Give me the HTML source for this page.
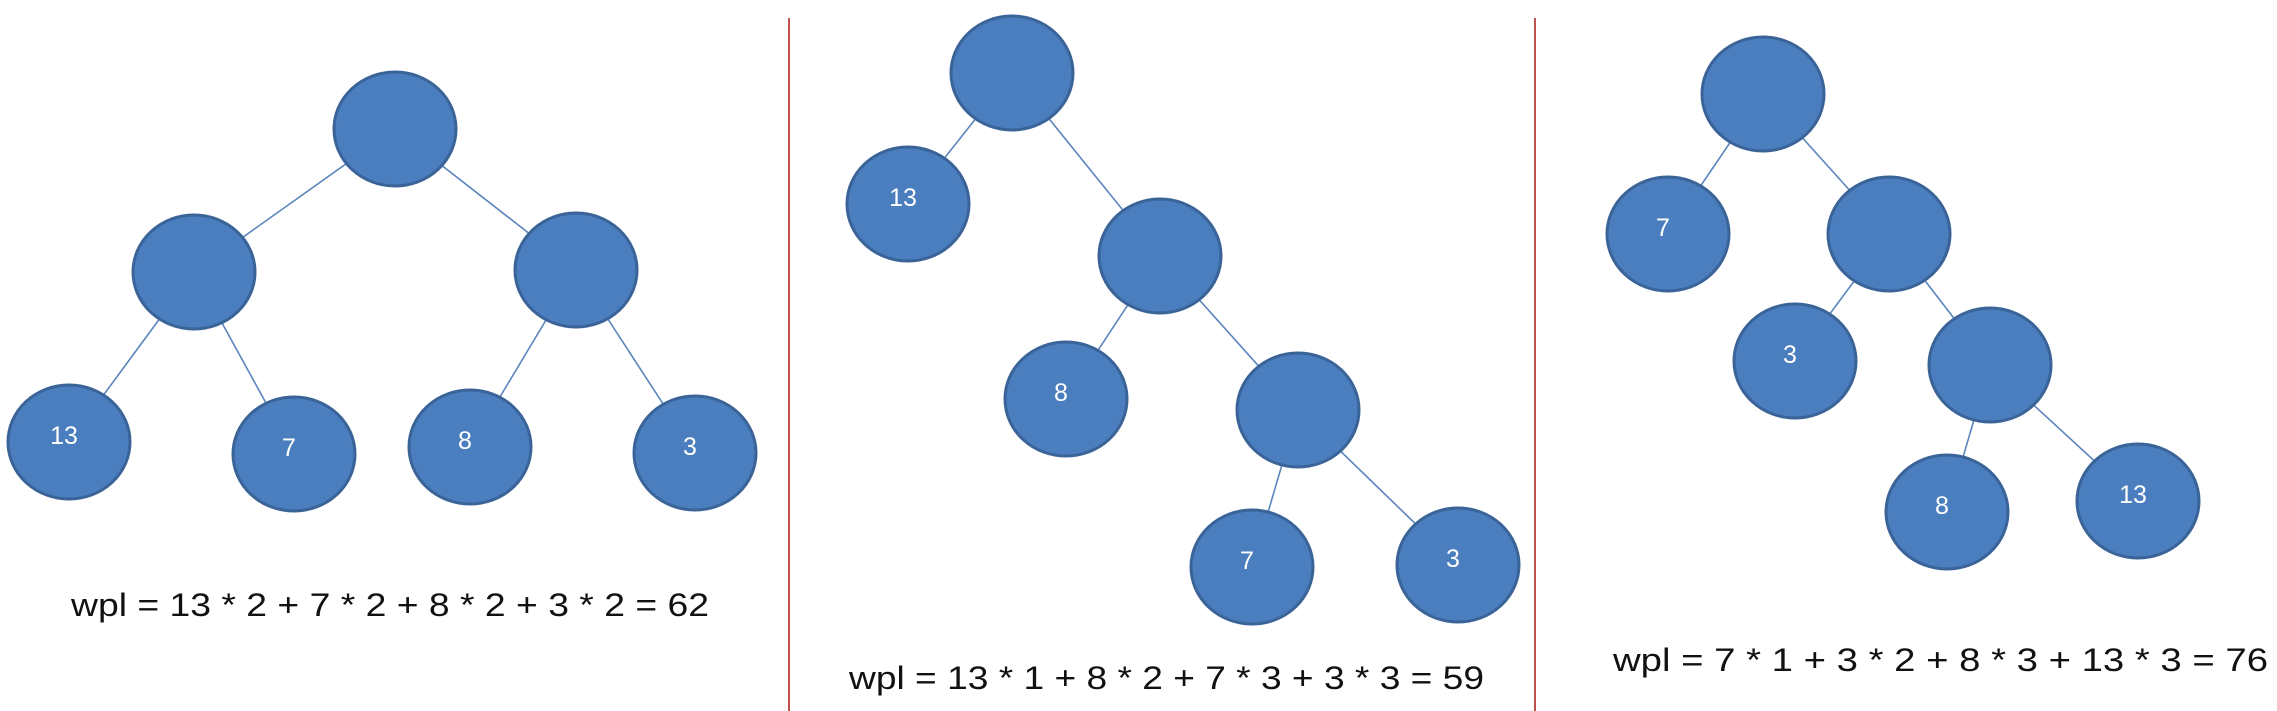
<!DOCTYPE html>
<html><head><meta charset="utf-8"><style>
html,body{margin:0;padding:0;background:#fff;}
svg{display:block;}
text{font-family:"Liberation Sans",sans-serif;}
</style></head><body>
<svg id="chart" width="2277" height="711" viewBox="0 0 2277 711" xmlns="http://www.w3.org/2000/svg">
<rect width="2277" height="711" fill="#fff"/>
<line x1="789" y1="18" x2="789" y2="711" stroke="#c0504d" stroke-width="2"/>
<line x1="1535" y1="18" x2="1535" y2="711" stroke="#c0504d" stroke-width="2"/>
<g id="edges"></g>
<g id="nodes"></g>
<g id="formulas"></g>
</svg>
<script>
// node data per tree: [x, y, label]
const tree1Nodes = [[395,129,""],[194,272,""],[576,270,""],[69,442,"13"],[294,454,"7"],[470,447,"8"],[695,453,"3"]];
const tree1Edges = [[0,1],[0,2],[1,3],[1,4],[2,5],[2,6]];
const tree2Nodes = [[1012,73,""],[908,204,"13"],[1160,256,""],[1066,399,"8"],[1298,410,""],[1252,567,"7"],[1458,565,"3"]];
const tree2Edges = [[0,1],[0,2],[2,3],[2,4],[4,5],[4,6]];
const tree3Nodes = [[1763,94,""],[1668,234,"7"],[1889,234,""],[1795,361,"3"],[1990,365,""],[1947,512,"8"],[2138,501,"13"]];
const tree3Edges = [[0,1],[0,2],[2,3],[2,4],[4,5],[4,6]];
const formulaTexts = ["wpl  = 13  * 2 + 7 * 2 + 8 * 2 + 3  * 2 = 62","wpl  = 13  * 1 + 8 * 2 + 7 * 3 + 3  * 3  = 59","wpl  = 7 * 1 + 3 * 2 + 8  * 3 + 13  * 3 = 76"];
const formulaPos = [[71,605,638],[849,678,635],[1613,660,655]];

const NS="http://www.w3.org/2000/svg";
const eg=document.getElementById('edges'), ng=document.getElementById('nodes'), fg=document.getElementById('formulas');
const trees=[[tree1Nodes,tree1Edges],[tree2Nodes,tree2Edges],[tree3Nodes,tree3Edges]];
trees.forEach((t,ti)=>{
  const [nodes,edges]=t;
  edges.forEach(e=>{
    const a=nodes[e[0]], b=nodes[e[1]];
    const l=document.createElementNS(NS,'line');
    l.setAttribute('x1',a[0]);l.setAttribute('y1',a[1]);l.setAttribute('x2',b[0]);l.setAttribute('y2',b[1]);
    l.setAttribute('stroke','#5b85bd');l.setAttribute('stroke-width','1.6');
    
    
    eg.appendChild(l);
  });
  nodes.forEach(n=>{
    const c=document.createElementNS(NS,'ellipse');
    c.setAttribute('cx',n[0]);c.setAttribute('cy',n[1]);c.setAttribute('rx',61);c.setAttribute('ry',57);
    c.setAttribute('fill','#4a7ebe');c.setAttribute('stroke','#3a6398');c.setAttribute('stroke-width','3');
    
    
    ng.appendChild(c);
    if(n[2]){
      const tx=document.createElementNS(NS,'text');
      tx.setAttribute('x',n[0]-5);tx.setAttribute('y',n[1]+2);
      tx.setAttribute('text-anchor','middle');tx.setAttribute('font-size','25');tx.setAttribute('fill','#fff');
      tx.textContent=n[2];
      
      
      ng.appendChild(tx);
    }
  });
});
formulaTexts.forEach((s,i)=>{
  const p=formulaPos[i];
  const tx=document.createElementNS(NS,'text');
  tx.setAttribute('x',p[0]);tx.setAttribute('y',p[1]+11);
  tx.setAttribute('font-size','32');tx.setAttribute('fill','#111');
  tx.setAttribute('textLength',p[2]);tx.setAttribute('lengthAdjust','spacingAndGlyphs');
  tx.setAttribute('xml:space','preserve');
  tx.textContent=s;
  
  
  fg.appendChild(tx);
});
</script>
</body></html>
